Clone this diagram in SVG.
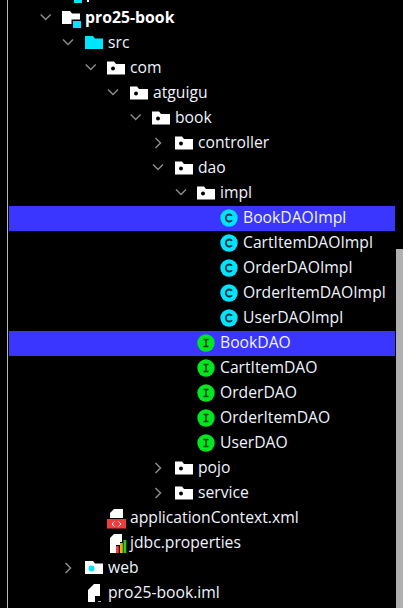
<svg xmlns="http://www.w3.org/2000/svg" width="403" height="608" viewBox="0 0 403 608">
<style>
text{font-family:"Open Sans","Noto Sans","Liberation Sans",sans-serif;font-size:15.7px;fill:#eef4ff}
.b{font-weight:700;font-size:15.8px;fill:#fff}
.ch{fill:none;stroke:#8a8a8a;stroke-width:1.5}
.f{fill:#fff}
.c{fill:#00e5ff}
.g{fill:#00e620}
</style>
<defs>
<path id="fold" d="M0 0H7L9 2.500H18V13H0Z"/>
<g id="pk"><use href="#fold" class="f"/><circle cx="6" cy="7" r="2" fill="#000"/></g>
<g id="cl"><circle r="8.700" class="c"/><path d="M3 -2.200A3.500 3.500 0 1 0 3 2.200" fill="none" stroke="#05303a" stroke-width="1.800"/></g>
<g id="in"><circle r="8.700" class="g"/><path d="M-2.500 -3.500H2.500M-2.500 3.500H2.500M0 -3.500V3.500" fill="none" stroke="#054010" stroke-width="1.500"/></g>
<path id="dn" d="M-5 -2.500L0 2.500L5 -2.500" class="ch"/>
<path id="rt" d="M-2.500 -5L2.500 0L-2.500 5" class="ch"/>
</defs>
<rect width="403" height="608" fill="#000"/>
<rect x="7" y="0" width="1" height="608" fill="#b8b8b8"/>
<rect x="396" y="249" width="7" height="359" fill="#b0b0b0"/>
<g id="selections">
<rect x="9" y="206" width="386" height="25" fill="#3a36ff"/>
<rect x="9" y="331" width="386" height="25" fill="#3a36ff"/>
</g>
<g id="connectors">
<use href="#dn" x="45.700" y="17"/><use href="#dn" x="68" y="42"/><use href="#dn" x="90.700" y="67"/><use href="#dn" x="113" y="92"/><use href="#dn" x="135.700" y="117"/>
<use href="#rt" x="158" y="143"/><use href="#dn" x="158" y="167"/><use href="#dn" x="181" y="192"/>
<use href="#rt" x="158" y="468"/><use href="#rt" x="158" y="493"/><use href="#rt" x="68" y="568"/>
</g>
<g id="pro25-book"><path class="f" d="M62 11H70L72 13.500H80V24H62Z"/><rect x="71.500" y="19.500" width="10.500" height="9.500" fill="#000"/><rect x="73" y="21" width="8" height="7" class="c"/><text class="b" x="85" y="23">pro25-book</text></g>
<g id="src"><path class="c" d="M85 36H93L95 38.500H103V49H85Z"/><text x="108" y="48">src</text></g>
<g id="com"><use href="#pk" x="107" y="61.500"/><text x="130" y="73">com</text></g>
<g id="atguigu"><use href="#pk" x="130" y="86.500"/><text x="153" y="98">atguigu</text></g>
<g id="book"><use href="#pk" x="152" y="111.500"/><text x="175" y="123">book</text></g>
<g id="controller"><use href="#pk" x="175" y="136.500"/><text x="198" y="148">controller</text></g>
<g id="dao"><use href="#pk" x="175" y="161.500"/><text x="198" y="173">dao</text></g>
<g id="impl"><use href="#pk" x="197" y="186.500"/><text x="220" y="198">impl</text></g>
<g id="BookDAOImpl"><use href="#cl" x="229" y="218"/><text x="243" y="223">BookDAOImpl</text></g>
<g id="CartItemDAOImpl"><use href="#cl" x="229" y="243"/><text x="243" y="248">CartItemDAOImpl</text></g>
<g id="OrderDAOImpl"><use href="#cl" x="229" y="268"/><text x="243" y="273">OrderDAOImpl</text></g>
<g id="OrderItemDAOImpl"><use href="#cl" x="229" y="293"/><text x="243" y="298">OrderItemDAOImpl</text></g>
<g id="UserDAOImpl"><use href="#cl" x="229" y="318"/><text x="243" y="323">UserDAOImpl</text></g>
<g id="BookDAO"><use href="#in" x="206" y="343"/><text x="220" y="348">BookDAO</text></g>
<g id="CartItemDAO"><use href="#in" x="206" y="368"/><text x="220" y="373">CartItemDAO</text></g>
<g id="OrderDAO"><use href="#in" x="206" y="393"/><text x="220" y="398">OrderDAO</text></g>
<g id="OrderItemDAO"><use href="#in" x="206" y="418"/><text x="220" y="423">OrderItemDAO</text></g>
<g id="UserDAO"><use href="#in" x="206" y="443"/><text x="220" y="448">UserDAO</text></g>
<g id="pojo"><use href="#pk" x="175" y="461.500"/><text x="198" y="473">pojo</text></g>
<g id="service"><use href="#pk" x="175" y="486.500"/><text x="198" y="498">service</text></g>
<g id="applicationContext"><path class="f" d="M114 509H123V518H110V513Z"/><rect x="107" y="519" width="19" height="9.500" fill="#f03c3c"/><path d="M114.500 521.500L112 524L114.500 526.500M118.500 521.500L121 524L118.500 526.500" fill="none" stroke="#fff" stroke-width="1"/><text x="130" y="523">applicationContext.xml</text></g>
<g id="jdbc-properties"><path class="f" d="M114 534H122V542H120V545H116V553H110V538Z"/><rect x="116" y="546" width="2.800" height="7" fill="#f03c3c"/><rect x="120" y="543" width="2.800" height="10" fill="#f0b000"/><rect x="123.500" y="540" width="2.800" height="13" fill="#20d020"/><text x="130" y="548">jdbc.properties</text></g>
<g id="web"><path class="f" d="M85 561H93L95 563.500H103V574H85Z"/><circle cx="91.500" cy="568.500" r="3" class="c"/><text x="108" y="573">web</text></g>
<g id="pro25-book-iml"><path class="f" d="M94 584H100V596H95V602H88V590Z"/><rect x="98" y="601" width="3" height="1" fill="#aaa"/><text x="108" y="598">pro25-book.iml</text></g>
<rect x="74" y="0" width="8" height="3" class="c"/><rect x="87" y="0" width="2" height="2" fill="#fff"/>
</svg>
